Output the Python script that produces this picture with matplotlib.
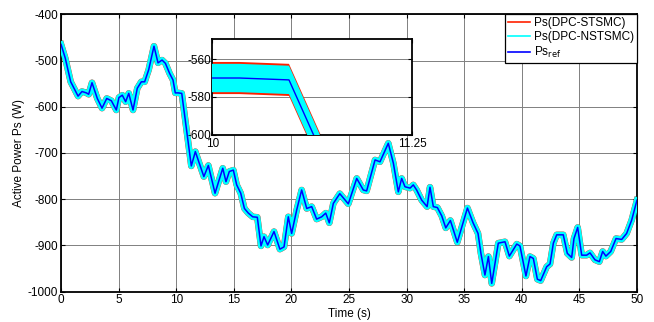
import matplotlib
matplotlib.use("Agg")
import matplotlib.pyplot as plt
import numpy as np

plt.rcParams["font.family"] = ["Liberation Sans", "DejaVu Sans"]
plt.rcParams["font.size"] = 8.5
plt.rcParams["axes.unicode_minus"] = False

# reference active power Ps_ref (W)
t = [0, 0.37, 0.84, 1.48, 1.82, 2.2, 2.4, 2.69, 3.15, 3.56, 3.97, 4.37, 4.8,
     5.03, 5.32, 5.61, 5.88, 6.25, 6.62, 6.97, 7.26, 7.61, 8.07, 8.42, 8.77,
     9.06, 9.43, 9.72, 9.92, 10.17, 10.48, 11.31, 11.66, 12.0, 12.4, 12.79,
     13.37, 14.04, 14.32, 14.61, 14.96, 15.25, 15.6, 15.92, 16.26, 16.64,
     17.04, 17.36, 17.62, 17.94, 18.49, 19.0, 19.36, 19.73, 20.02, 20.46,
     20.89, 21.33, 21.76, 22.19, 22.63, 22.98, 23.29, 23.64, 24.2, 24.94,
     25.67, 26.24, 26.53, 27.26, 27.69, 28.41, 28.85, 29.28, 29.57, 29.86,
     30.3, 30.58, 30.87, 31.31, 31.78, 32.03, 32.32, 32.67, 33.05, 33.4,
     33.8, 34.4, 35.28, 35.77, 36.2, 36.45, 36.8, 37.1, 37.39, 37.96, 38.54,
     38.92, 39.56, 39.84, 40.36, 40.71, 41.0, 41.35, 41.64, 42.16, 42.45,
     42.74, 43.03, 43.6, 43.95, 44.33, 44.53, 44.85, 45.2, 45.63, 45.92,
     46.35, 46.73, 47.02, 47.3, 47.72, 48.18, 48.67, 49.1, 49.54, 50]
ps_ref = [-465, -495, -546, -577, -567, -570, -573, -548, -582, -603, -582,
          -587, -607, -580, -575, -589, -571, -607, -560, -546, -546, -520,
          -469, -505, -499, -506, -528, -542, -570, -570, -571, -728, -697,
          -722, -751, -727, -787, -733, -762, -740, -737, -769, -787, -820,
          -830, -838, -839, -901, -881, -899, -870, -908, -903, -838, -874,
          -823, -780, -820, -816, -843, -838, -830, -851, -809, -788, -810,
          -755, -780, -782, -715, -719, -679, -722, -784, -755, -773, -776,
          -769, -780, -802, -816, -774, -816, -818, -836, -862, -846, -893,
          -819, -851, -874, -917, -964, -924, -982, -895, -892, -923, -897,
          -901, -966, -924, -928, -973, -976, -946, -940, -895, -877, -877,
          -917, -926, -885, -861, -921, -921, -916, -931, -935, -913, -923,
          -913, -885, -887, -874, -845, -802]

# chattering band half-widths around the reference (W)
stsmc_ripple = 8.5
nstsmc_ripple = 7.5

labels = ["Ps(DPC-STSMC)", "Ps(DPC-NSTSMC)", r"Ps$_{\mathrm{ref}}$"]
colors = ["#ff2000", "#00ffff", "#0000ff"]

t = np.array(t)
ps_ref = np.array(ps_ref)


def style(ax):
    ax.tick_params(direction="in", top=True, right=True, length=3,
                   width=0.8, pad=2, labelsize=8.5)
    for s in ax.spines.values():
        s.set_linewidth(1.3)


fig = plt.figure(figsize=(6.54, 3.22), dpi=100)
ax = fig.add_axes([0.0933, 0.0941, 0.8807, 0.8615])
# in the full view the ripple band is only a few pixels: draw it as thick lines
ax.plot(t, ps_ref, color=colors[0], lw=4.7, solid_joinstyle="round", zorder=2)
ax.plot(t, ps_ref, color=colors[1], lw=4.5, solid_joinstyle="round", zorder=3)
ax.plot(t, ps_ref, color=colors[2], lw=1.1, zorder=4)
ax.set_xlim(0, 50)
ax.set_ylim(-1000, -400)
ax.set_xticks(range(0, 51, 5))
ax.set_yticks(range(-1000, -399, 100))
ax.grid(True, color="#808080", lw=0.7)
ax.set_axisbelow(True)
style(ax)
ax.set_xlabel("Time (s)", labelpad=1)
ax.set_ylabel("Active Power Ps (W)", labelpad=2)

handles = [plt.Line2D([], [], color=c, lw=1.2) for c in colors]
leg = ax.legend(handles, labels, loc="upper right", bbox_to_anchor=(1, 1),
                borderaxespad=0, fancybox=False, framealpha=1,
                edgecolor="black", handlelength=1.9, handletextpad=0.3,
                borderpad=0.25, labelspacing=0.15, fontsize=8.5)
leg.get_frame().set_linewidth(0.9)
leg.set_zorder(10)

# zoomed inset: the ripple band drawn as vertical spread around the reference
axin = fig.add_axes([0.3246, 0.5817, 0.3054, 0.2963])
axin.fill_between(t, ps_ref - stsmc_ripple, ps_ref + stsmc_ripple,
                  color=colors[0], lw=0, zorder=2)
axin.fill_between(t, ps_ref - nstsmc_ripple, ps_ref + nstsmc_ripple,
                  color=colors[1], lw=0, zorder=3)
axin.plot(t, ps_ref, color=colors[2], lw=1.0, zorder=4)
axin.set_xlim(10, 11.25)
axin.set_ylim(-600, -549.5)
axin.set_xticks([10, 11.25])
axin.set_xticklabels(["10", "11.25"])
axin.set_yticks([-600, -580, -560])
axin.yaxis.grid(True, color="#808080", lw=0.7)
axin.set_axisbelow(True)
style(axin)
axin.tick_params(axis="y", pad=1)
axin.tick_params(axis="x", pad=2.5)

fig.savefig("out.png", dpi=100)
